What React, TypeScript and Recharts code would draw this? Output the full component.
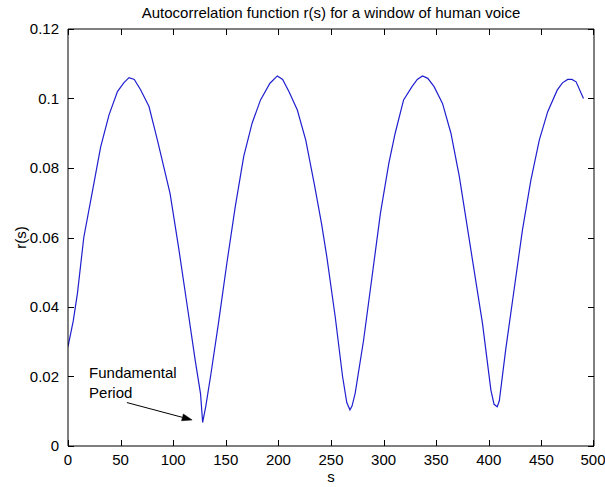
import React from "react";
import {
  LineChart,
  Line,
  XAxis,
  YAxis,
  ReferenceLine,
  ReferenceDot,
  Label,
} from "recharts";

const sValues = [
  0, 5, 9, 15, 24, 31, 39, 47, 53, 58, 63, 69, 77, 85, 97, 105, 113, 121, 126, 128,
  131, 136, 143, 151, 159, 167, 175, 183, 192, 199, 204, 210, 218, 226, 234, 241,
  246, 254, 261, 265, 268, 270, 273, 281, 289, 297, 305, 311, 319, 327, 332, 337,
  342, 348, 356, 364, 372, 378, 386, 394, 402, 405, 408, 410, 416, 424, 432, 440,
  448, 456, 465, 470, 475, 479, 483, 490,
];

const rValues = [
  0.0286, 0.036, 0.044, 0.06, 0.0746, 0.086, 0.0953, 0.102, 0.1045, 0.106, 0.1055,
  0.1025, 0.0977, 0.088, 0.0727, 0.0574, 0.041, 0.0245, 0.015, 0.0068,
  0.0115, 0.021, 0.0353, 0.0526, 0.0689, 0.0833, 0.0929, 0.0996, 0.1044, 0.1065,
  0.1055, 0.102, 0.0967, 0.088, 0.0756, 0.064,
  0.0545, 0.0372, 0.02, 0.0125, 0.0104, 0.0115, 0.0152, 0.0305, 0.0487, 0.067,
  0.0814, 0.09, 0.0996, 0.1034, 0.1055, 0.1065,
  0.1058, 0.1034, 0.0986, 0.09, 0.0775, 0.066, 0.0506, 0.0353, 0.0161, 0.012,
  0.0113, 0.013, 0.0276, 0.0449, 0.0622, 0.0765,
  0.088, 0.0962, 0.1024, 0.1045, 0.1055, 0.1055, 0.1048, 0.1,
];

const xTicks = [0, 50, 100, 150, 200, 250, 300, 350, 400, 450, 500];
const yTicks = [0, 0.02, 0.04, 0.06, 0.08, 0.1, 0.12];
const yTickLabels = ["0", "0.02", "0.04", "0.06", "0.08", "0.1", "0.12"];

const titleText = "Autocorrelation function r(s) for a window of human voice";
const xLabel = "s";
const yLabel = "r(s)";

// annotation anchors (data coordinates)
const noteLines = ["Fundamental", "Period"];
const noteAnchor = { s: 20, r: 0.0195 };
const arrowFrom = { s: 56, r: 0.0125 };
const arrowTo = { s: 118, r: 0.0075 };

const data = sValues.map((s, i) => ({ s, r: rValues[i] }));

const FONT = "'Liberation Sans', Arial, Helvetica, sans-serif";
const FS = 15;

// plot-box layout
const W = 605;
const H = 487;
const M_TOP = 29;
const M_RIGHT = 11;
const Y_W = 68;
const X_H = 41;
const PLOT_LEFT = Y_W;
const PLOT_RIGHT = W - M_RIGHT;
const PLOT_TOP = M_TOP;
const PLOT_BOTTOM = H - X_H;
const TICK_LEN = 6;

const px = (v: number) => Math.round(v) + 0.5;

const fmtY = (v: number) => {
  const i = yTicks.findIndex((t) => Math.abs(t - v) < 1e-9);
  return i >= 0 ? yTickLabels[i] : String(v);
};

const XTick = (props: any) => {
  const { x, y, payload } = props;
  const lx = px(x);
  return (
    <g>
      <path
        d={`M${lx},${PLOT_BOTTOM} V${PLOT_BOTTOM - TICK_LEN} M${lx},${PLOT_TOP} V${PLOT_TOP + TICK_LEN}`}
        stroke="#000"
        strokeWidth={1}
        fill="none"
      />
      <text x={x} y={y} dy="0.71em" textAnchor="middle" fontFamily={FONT} fontSize={FS} fill="#000">
        {String(payload.value)}
      </text>
    </g>
  );
};

const YTick = (props: any) => {
  const { x, y, payload } = props;
  const ly = px(y);
  return (
    <g>
      <path
        d={`M${PLOT_LEFT},${ly} H${PLOT_LEFT + TICK_LEN} M${PLOT_RIGHT},${ly} H${PLOT_RIGHT - TICK_LEN}`}
        stroke="#000"
        strokeWidth={1}
        fill="none"
      />
      <text x={x} y={y} dy="0.355em" textAnchor="end" fontFamily={FONT} fontSize={FS} fill="#000">
        {fmtY(payload.value)}
      </text>
    </g>
  );
};

const ArrowShape = (props: any) => {
  const { x1, y1, x2, y2 } = props;
  if ([x1, y1, x2, y2].some((v) => typeof v !== "number")) return null;
  const dx = x2 - x1;
  const dy = y2 - y1;
  const len = Math.sqrt(dx * dx + dy * dy) || 1;
  const ux = dx / len;
  const uy = dy / len;
  const hl = 10;
  const hw = 3.5;
  const bx = x2 - ux * hl;
  const by = y2 - uy * hl;
  const p1 = `${bx - uy * hw},${by + ux * hw}`;
  const p2 = `${bx + uy * hw},${by - ux * hw}`;
  return (
    <g>
      <line x1={x1} y1={y1} x2={bx} y2={by} stroke="#000" strokeWidth={1} />
      <polygon points={`${x2},${y2} ${p1} ${p2}`} fill="#000" stroke="#000" strokeWidth={0.5} />
    </g>
  );
};

const NoteShape = (props: any) => {
  const { cx, cy } = props;
  if (typeof cx !== "number" || typeof cy !== "number") return null;
  return (
    <text x={cx} y={cy} fontFamily={FONT} fontSize={FS} fill="#000">
      {noteLines.map((t, i) => (
        <tspan key={i} x={cx} dy={i === 0 ? 0 : 20}>
          {t}
        </tspan>
      ))}
    </text>
  );
};

export default function App() {
  return (
    <div style={{ position: "absolute", left: 0, top: 0, width: W, height: H, background: "#fff" }}>
      <LineChart
        width={W}
        height={H}
        data={data}
        margin={{ top: M_TOP, right: M_RIGHT, bottom: 0, left: 0 }}
        style={{ fontFamily: FONT }}
      >
        <XAxis
          dataKey="s"
          type="number"
          domain={[0, 500]}
          ticks={xTicks}
          allowDataOverflow
          height={X_H}
          tickSize={0}
          tickMargin={8}
          tick={XTick}
          tickLine={false}
          axisLine={{ stroke: "#000" }}
        >
          <Label value={xLabel} position="insideBottom" offset={5} fill="#000" fontSize={FS} fontFamily={FONT} />
        </XAxis>
        <YAxis
          type="number"
          domain={[0, 0.12]}
          ticks={yTicks}
          width={Y_W}
          tickSize={0}
          tickMargin={9}
          tick={YTick}
          tickLine={false}
          axisLine={{ stroke: "#000" }}
        >
          <Label
            value={yLabel}
            angle={-90}
            position="insideLeft"
            offset={21}
            fill="#000"
            fontSize={FS}
            fontFamily={FONT}
            style={{ textAnchor: "middle" }}
          />
        </YAxis>
        <ReferenceLine y={0.12} stroke="#000" strokeWidth={1} />
        <ReferenceLine x={500} stroke="#000" strokeWidth={1} />
        <Line
          type="linear"
          dataKey="r"
          stroke="#1f1fd0"
          strokeWidth={1.2}
          dot={false}
          activeDot={false}
          isAnimationActive={false}
        />
        <ReferenceLine
          segment={[
            { x: arrowFrom.s, y: arrowFrom.r },
            { x: arrowTo.s, y: arrowTo.r },
          ]}
          shape={ArrowShape}
        />
        <ReferenceDot x={noteAnchor.s} y={noteAnchor.r} r={0} shape={NoteShape} />
      </LineChart>
      <svg
        width={W}
        height={30}
        style={{ position: "absolute", left: 0, top: 0, pointerEvents: "none" }}
      >
        <text x={331} y={18} textAnchor="middle" fontFamily={FONT} fontSize={FS} fill="#000">
          {titleText}
        </text>
      </svg>
    </div>
  );
}
